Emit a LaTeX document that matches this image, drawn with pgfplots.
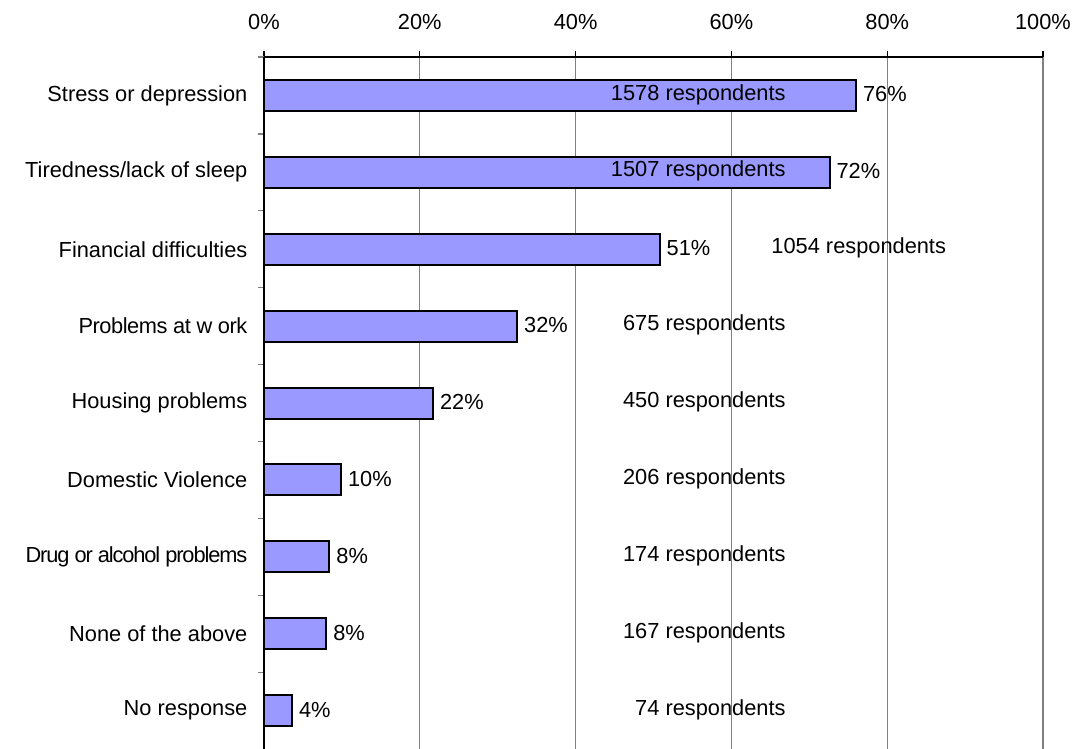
\documentclass[border=0pt]{standalone}
\usepackage{fontspec}
\setmainfont{Liberation Sans}
\usepackage{pgfplots}
\pgfplotsset{compat=1.18}
\definecolor{barfill}{RGB}{153,153,255}
\definecolor{gridgrey}{RGB}{128,128,128}

\begin{document}
\fontsize{10.9bp}{13bp}\selectfont
\begin{tikzpicture}
\useasboundingbox (-132bp,0) rectangle (406bp,374.5bp);
\begin{axis}[
  at={(0,0)}, anchor=south west,
  scale only axis,
  width=389.5bp, height=346bp,
  xmin=0, xmax=100,
  ymin=-0.5, ymax=8.5,
  y dir=reverse,
  axis x line*=top,
  axis y line*=left,
  axis line style={line width=0.8bp, black, -},
  xtick={0,20,40,60,80,100},
  xticklabels={0\%,20\%,40\%,60\%,80\%,100\%},
  ytick={0,...,8},
  yticklabels={Stress or depression, Tiredness/lack of sleep, Financial difficulties,
    {\addfontfeatures{LetterSpace=-2}Problems at w ork}, Housing problems, Domestic Violence,
    {\addfontfeatures{LetterSpace=-5}Drug or alcohol problems},
    None of the above, No response},
  minor ytick={-0.5,0.5,...,7.5},
  tick align=outside,
  major tick length=3bp,
  minor tick length=3bp,
  major y tick style={draw=none},
  minor y tick style={draw=gridgrey, line width=0.6bp},
  major x tick style={draw=black, line width=0.6bp},
  xmajorgrids,
  major grid style={draw=gridgrey, line width=0.6bp},
  xticklabel style={yshift=7bp},
  yticklabel style={xshift=-1.5bp},
  clip=false,
]
% bars (share of respondents, %)
\addplot[xbar, bar width=15.5bp, fill=barfill, draw=black, line width=1bp,
  nodes near coords, point meta=explicit symbolic,
  nodes near coords style={anchor=west, inner sep=3bp, yshift=0.5bp}]
  coordinates {
  (76.0,0) [76\%]
  (72.6,1) [72\%]
  (50.8,2) [51\%]
  (32.5,3) [32\%]
  (21.7,4) [22\%]
  (9.9,5)  [10\%]
  (8.4,6)  [8\%]
  (8.0,7)  [8\%]
  (3.6,8)  [4\%]
};
% respondent counts
\addplot[draw=none, mark=none,
  nodes near coords, point meta=explicit symbolic,
  nodes near coords style={anchor=east, inner sep=0pt, yshift=0.5bp}]
  coordinates {
  (67.0,0) [1578 respondents]
  (67.0,1) [1507 respondents]
  (87.6,2) [1054 respondents]
  (67.0,3) [675 respondents]
  (67.0,4) [450 respondents]
  (67.0,5) [206 respondents]
  (67.0,6) [174 respondents]
  (67.0,7) [167 respondents]
  (67.0,8) [74 respondents]
};
\end{axis}
\end{tikzpicture}
\end{document}
